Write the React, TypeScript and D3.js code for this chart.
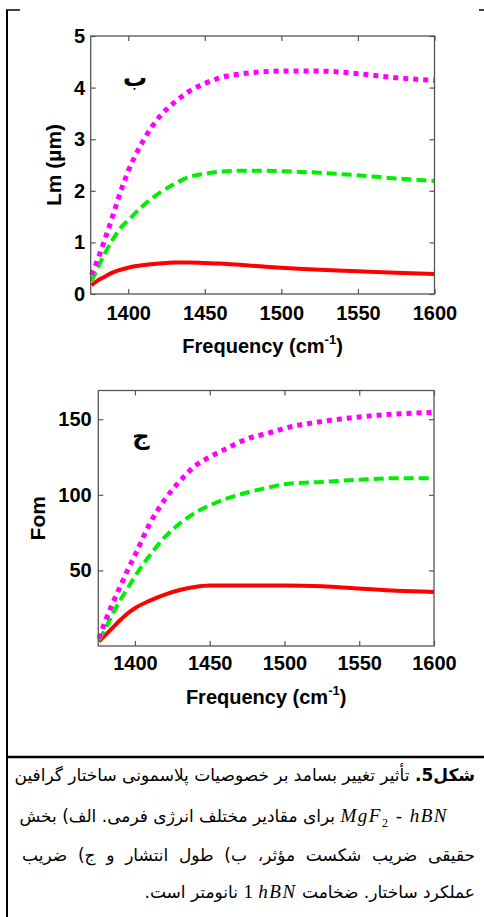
import React, { useEffect, useRef } from 'react';
import * as d3 from 'd3';

// frequency samples (cm-1)
const freq = [1376, 1380, 1385, 1390, 1395, 1400, 1410, 1420, 1430, 1440, 1450, 1460, 1475, 1490, 1500, 1525, 1550, 1575, 1600];

// panel b: propagation length Lm (um)
const lmRed = [0.17, 0.26, 0.34, 0.42, 0.47, 0.51, 0.56, 0.59, 0.61, 0.61, 0.60, 0.59, 0.56, 0.53, 0.51, 0.47, 0.44, 0.41, 0.39];
const lmGreen = [0.25, 0.50, 0.80, 1.06, 1.28, 1.43, 1.72, 1.95, 2.13, 2.27, 2.33, 2.37, 2.39, 2.39, 2.38, 2.35, 2.30, 2.24, 2.19];
const lmMagenta = [0.37, 0.66, 1.08, 1.52, 1.98, 2.38, 2.98, 3.42, 3.71, 3.93, 4.08, 4.19, 4.27, 4.31, 4.32, 4.32, 4.27, 4.19, 4.14];

// panel c: figure of merit
const fomRed = [3, 7, 12, 17, 21.5, 25, 30, 34, 37, 39, 40, 40, 40, 40, 40, 39.5, 38, 36.5, 35.8];
const fomGreen = [4, 11, 21, 30, 38, 46, 60, 72, 81, 88, 93, 97, 101.5, 105, 107, 108.5, 110, 111, 111];
const fomMagenta = [5, 16, 28, 39, 50, 60, 81, 97, 109, 119, 125, 130, 137, 141, 144, 148.5, 151.5, 153.5, 154.5];

// ticks
const xTicks = [1400, 1450, 1500, 1550, 1600];
const lmTicks = [0, 1, 2, 3, 4, 5];
const fomTicks = [50, 100, 150];

// caption text
const captionFig = 'شکل5.';
const captionLine1 = ' تأثیر تغییر بسامد بر خصوصیات پلاسمونی ساختار گرافین';
const captionLine2 = ' برای مقادیر مختلف انرژی فرمی. الف) بخش';
const captionLine3 = 'حقیقی ضریب شکست مؤثر، ب) طول انتشار و ج) ضریب';
const captionLine4a = 'عملکرد ساختار. ضخامت ';
const captionLine4b = ' نانومتر است.';

const axisColor = '#555';
const tickFont = 'Liberation Sans, Arial, sans-serif';
const persianFont = 'DejaVu Sans, sans-serif';
const mathFont = 'Liberation Serif, Times New Roman, serif';

const seriesStyle = [
    { color: '#ff0000', dash: null, width: 4 },
    { color: '#00ee00', dash: '10,5', width: 4 },
    { color: '#ff00ff', dash: '5,5', width: 5 },
];

const panels = [
    {
        left: 90.7, right: 434.5, top: 36, bottom: 294,
        yDomain: [0, 5], yTicks: lmTicks,
        series: [lmRed, lmGreen, lmMagenta],
        yLabel: 'Lm (µm)', yLabelX: 54,
        letter: 'ب', letterX: 135, letterY: 78,
        xPad: 11.8, yPad: 5.7, xLabelY: 353,
    },
    {
        left: 98.3, right: 434, top: 390.5, bottom: 646,
        yDomain: [0, 169], yTicks: fomTicks,
        series: [fomRed, fomGreen, fomMagenta],
        yLabel: 'Fom', yLabelX: 37.5,
        letter: 'ج', letterX: 141, letterY: 436,
        xPad: 10, yPad: 6.6, xLabelY: 704,
    },
];

// style an axis group: no domain line, gray ticks, bold labels
function styleAxis(g) {
    g.select('.domain').remove();
    g.selectAll('line').attr('stroke', axisColor).attr('stroke-width', 1.2);
    g.attr('font-family', tickFont).attr('font-size', 20).attr('font-weight', 'bold');
}

function drawPanel(svg, p) {
    const x = d3.scaleLinear().domain([1375.5, 1600]).range([p.left, p.right]);
    const y = d3.scaleLinear().domain(p.yDomain).range([p.bottom, p.top]);
    const g = svg.append('g');

    // bottom axis with labels
    g.append('g')
        .attr('transform', 'translate(0,' + p.bottom + ')')
        .call(d3.axisBottom(x).tickValues(xTicks).tickSize(-5).tickPadding(p.xPad).tickFormat(d3.format('d')))
        .call(styleAxis);

    // top axis, ticks only
    g.append('g')
        .attr('transform', 'translate(0,' + p.top + ')')
        .call(d3.axisTop(x).tickValues(xTicks).tickSize(-5).tickFormat(() => ''))
        .call(styleAxis);

    // left axis with labels
    g.append('g')
        .attr('transform', 'translate(' + p.left + ',0)')
        .call(d3.axisLeft(y).tickValues(p.yTicks).tickSize(-5).tickPadding(p.yPad).tickFormat(d3.format('d')))
        .call(styleAxis);

    // right axis, ticks only
    g.append('g')
        .attr('transform', 'translate(' + p.right + ',0)')
        .call(d3.axisRight(y).tickValues(p.yTicks).tickSize(-5).tickFormat(() => ''))
        .call(styleAxis);

    // curves
    const line = d3.line()
        .x((d, i) => x(freq[i]))
        .y(d => y(d))
        .curve(d3.curveMonotoneX);

    p.series.forEach((values, i) => {
        const s = seriesStyle[i];
        g.append('path')
            .attr('d', line(values))
            .attr('fill', 'none')
            .attr('stroke', s.color)
            .attr('stroke-width', s.width)
            .attr('stroke-dasharray', s.dash)
            .attr('stroke-linecap', 'butt');
    });

    // plot box
    g.append('rect')
        .attr('x', p.left)
        .attr('y', p.top)
        .attr('width', p.right - p.left)
        .attr('height', p.bottom - p.top)
        .attr('fill', 'none')
        .attr('stroke', axisColor)
        .attr('stroke-width', 1.3);

    // x axis title with superscript
    const xt = g.append('text')
        .attr('x', (p.left + p.right) / 2)
        .attr('y', p.xLabelY)
        .attr('text-anchor', 'middle')
        .attr('font-family', tickFont)
        .attr('font-size', 20)
        .attr('font-weight', 'bold')
        .attr('fill', '#000');
    xt.append('tspan').text('Frequency (cm');
    xt.append('tspan').attr('dy', -9).attr('font-size', 13).text('-1');
    xt.append('tspan').attr('dy', 9).text(')');

    // y axis title
    g.append('text')
        .attr('transform', 'translate(' + p.yLabelX + ',' + (p.top + p.bottom) / 2 + ') rotate(-90)')
        .attr('text-anchor', 'middle')
        .attr('dy', '0.35em')
        .attr('font-family', tickFont)
        .attr('font-size', 21)
        .attr('font-weight', 'bold')
        .attr('fill', '#000')
        .text(p.yLabel);

    // panel letter
    g.append('text')
        .attr('x', p.letterX)
        .attr('y', p.letterY)
        .attr('text-anchor', 'middle')
        .attr('dy', '0.35em')
        .attr('font-family', persianFont)
        .attr('font-size', 24)
        .attr('font-weight', 'bold')
        .attr('fill', '#000')
        .text(p.letter);
}

const lineStyle = {
    position: 'absolute',
    left: 22,
    width: 453,
    direction: 'rtl',
    fontFamily: persianFont,
    fontSize: 17,
    lineHeight: '22px',
    whiteSpace: 'nowrap',
    color: '#000',
} as React.CSSProperties;

const justified = { textAlign: 'justify', textAlignLast: 'justify' } as React.CSSProperties;

const mathStyle = {
    fontFamily: mathFont,
    fontStyle: 'italic',
    fontSize: 19,
    unicodeBidi: 'isolate',
    display: 'inline-block',
    letterSpacing: 1.5,
} as React.CSSProperties;

export default function App() {
    const ref = useRef(null);

    useEffect(() => {
        const svg = d3.select(ref.current);
        svg.selectAll('*').remove();

        // table borders
        svg.append('line').attr('x1', 7).attr('y1', 10).attr('x2', 7).attr('y2', 917).attr('stroke', '#000').attr('stroke-width', 2);
        svg.append('line').attr('x1', 6).attr('y1', 10).attr('x2', 20).attr('y2', 10).attr('stroke', '#000').attr('stroke-width', 1.5);
        svg.append('line').attr('x1', 479).attr('y1', 10).attr('x2', 484).attr('y2', 10).attr('stroke', '#000').attr('stroke-width', 1.5);
        svg.append('line').attr('x1', 6).attr('y1', 757).attr('x2', 484).attr('y2', 757).attr('stroke', '#000').attr('stroke-width', 2.5);

        panels.forEach(p => drawPanel(svg, p));
    }, []);

    return (
        <div style={{ position: 'absolute', left: 0, top: 0, width: 484, height: 917, background: '#fff', overflow: 'hidden' }}>
            <svg ref={ref} width={484} height={917} style={{ position: 'absolute', left: 0, top: 0 }} />
            <div style={{ ...lineStyle, ...justified, top: 764 }}>
                <b>{captionFig}</b>{captionLine1}
            </div>
            <div style={{ ...lineStyle, ...justified, top: 805 }}>
                <span dir="ltr" style={{ ...mathStyle, marginRight: 27 }}>
                    MgF<sub style={{ fontStyle: 'normal', fontSize: 12 }}>2</sub>
                    <span style={{ fontStyle: 'normal' }}> - </span>hBN
                </span>
                {captionLine2}
            </div>
            <div style={{ ...lineStyle, ...justified, top: 844 }}>
                {captionLine3}
            </div>
            <div style={{ ...lineStyle, textAlign: 'right', top: 881 }}>
                {captionLine4a}
                <span dir="ltr" style={mathStyle}>hBN</span>
                {' '}
                <span style={{ fontFamily: mathFont, fontSize: 19 }}>1</span>
                {captionLine4b}
            </div>
        </div>
    );
}
